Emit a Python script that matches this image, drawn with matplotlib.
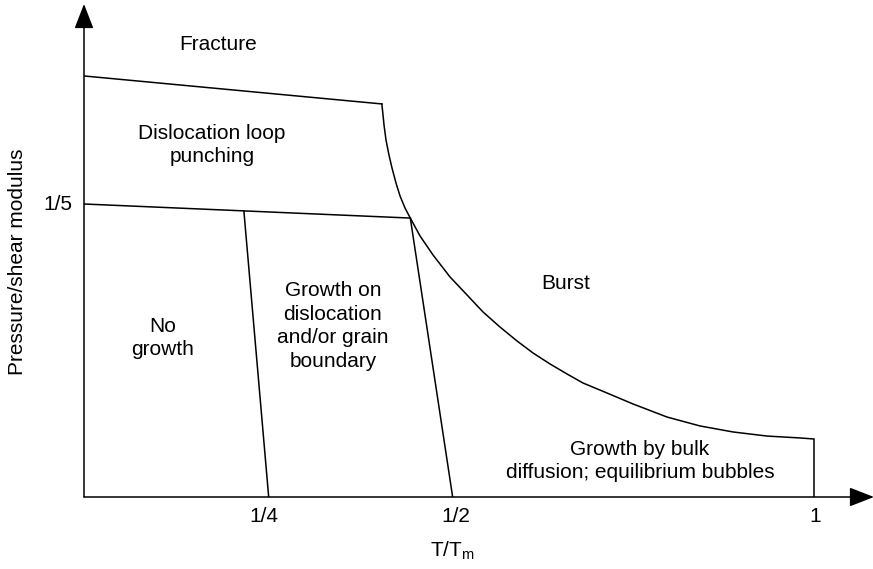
import matplotlib
matplotlib.use("Agg")
import matplotlib.pyplot as plt

plt.rcParams['font.family'] = ['Liberation Sans', 'DejaVu Sans']
plt.rcParams['mathtext.fontset'] = 'custom'
plt.rcParams['mathtext.rm'] = 'Liberation Sans'
plt.rcParams['mathtext.it'] = 'Liberation Sans'
plt.rcParams['mathtext.default'] = 'regular'

# boundaries of the regions (x = T/Tm, y = pressure/shear modulus)
fracture_x = [0.0, 0.408]
fracture_y = [0.2874, 0.2683]

fifth_x = [0.0, 0.447]
fifth_y = [0.2000, 0.1904]

quarter_x = [0.219, 0.253]
quarter_y = [0.1953, 0.0]

half_x = [0.447, 0.505]
half_y = [0.1904, 0.0]

# burst boundary
burst_x = [0.408, 0.4096, 0.4110, 0.4137, 0.4178, 0.4219, 0.4274, 0.4329,
           0.4397, 0.447, 0.4603, 0.4781, 0.5014, 0.5247, 0.5466, 0.5699,
           0.5932, 0.6151, 0.6384, 0.6616, 0.6836, 0.7068, 0.7521, 0.7986,
           0.8438, 0.8890, 0.9356, 0.9808, 1.0, 1.0]
burst_y = [0.2683, 0.2608, 0.2539, 0.2437, 0.2334, 0.2246, 0.2143, 0.2055,
           0.1973, 0.1904, 0.1782, 0.1652, 0.1502, 0.1379, 0.1263, 0.1160,
           0.1065, 0.0983, 0.0908, 0.0840, 0.0778, 0.0730, 0.0635, 0.0546,
           0.0485, 0.0444, 0.0416, 0.0403, 0.0396, 0.0]

xtick_labels = ['1/4', '1/2', '1']
ytick_labels = ['1/5']

W, H = 873, 569
fig = plt.figure(figsize=(W / 100, H / 100), dpi=100)
ax = fig.add_axes([84 / W, 72 / H, 789 / W, 493 / H])
ax.set_xlim(0, 789 / 730)
ax.set_ylim(0, 493 / 1465)
ax.axis('off')

lw = 1.1
for xs, ys in [(fracture_x, fracture_y), (fifth_x, fifth_y),
               (quarter_x, quarter_y), (half_x, half_y), (burst_x, burst_y)]:
    ax.plot(xs, ys, color='black', lw=lw, solid_joinstyle='miter')

# axes with arrows
arr = dict(arrowstyle='-|>,head_length=0.85,head_width=0.33', color='black',
           lw=lw, shrinkA=0, shrinkB=0, mutation_scale=18)
ax.annotate('', xy=(790 / 730, 0), xytext=(0, 0), arrowprops=arr,
            annotation_clip=False)
ax.annotate('', xy=(0, 493 / 1465), xytext=(0, 0), arrowprops=arr,
            annotation_clip=False)

fs = 15


def ftext(px, py, s, **kw):
    kw.setdefault('ha', 'center')
    kw.setdefault('va', 'center')
    fig.text(px / W, 1 - py / H, s, fontsize=fs, linespacing=1.32, **kw)


# tick labels
for px, lab in zip([264, 456, 815], xtick_labels):
    ftext(px, 516, lab)
ftext(72, 204, ytick_labels[0], ha='right')

ftext(452, 551, 'T/T$_m$')
ftext(18, 262, 'Pressure/shear modulus', rotation=90)

# region labels
ftext(218, 44, 'Fracture')
ftext(212, 145, 'Dislocation loop\npunching')
ftext(163, 338, 'No\ngrowth')
ftext(333, 326, 'Growth on\ndislocation\nand/or grain\nboundary')
ftext(566, 283, 'Burst')
ftext(640, 461, 'Growth by bulk\ndiffusion; equilibrium bubbles')

fig.savefig('out.png', dpi=100)
